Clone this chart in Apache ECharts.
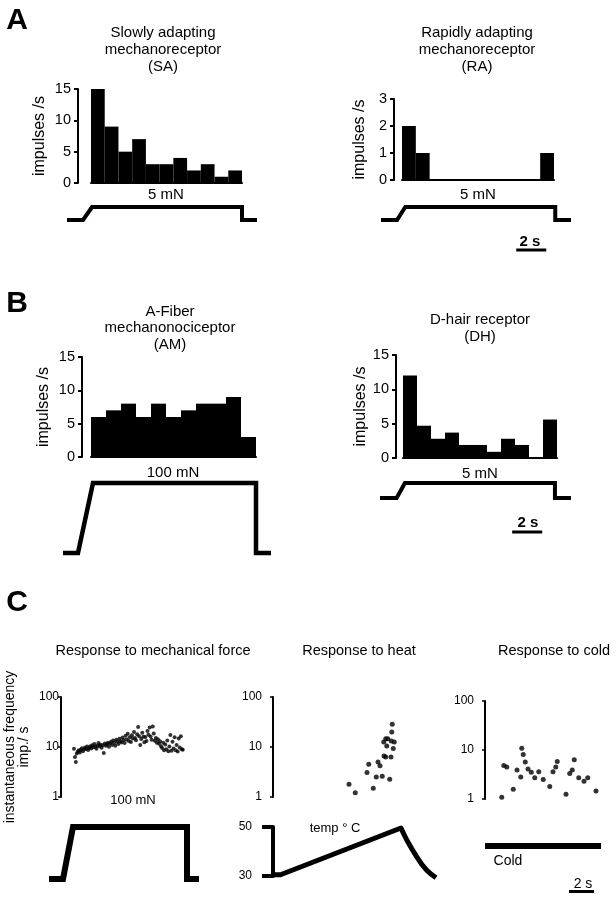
<!DOCTYPE html>
<html><head><meta charset="utf-8">
<script src="https://cdn.jsdelivr.net/npm/echarts@6/dist/echarts.min.js"></script>
<style>html,body{margin:0;padding:0;background:#fff}#c{width:616px;height:900px}</style>
</head><body><div id="c"></div>
<script>
// ---------- DATA ----------
const binLabels = ['1','2','3','4','5','6','7','8','9','10','11'];
const binsSA = [15,9,5,7,3,3,4,2,3,1,2];
const binsRA = [2,1,0,0,0,0,0,0,0,0,1];
const binsAM = [6,7,8,6,8,6,7,8,8,9,3];
const binsDH = [12,4.7,2.8,3.7,1.9,1.9,0.9,2.8,1.9,0,5.6];

// stimulus traces (time s, force mN)
const stimSA_t = [-1.07,0,0.6,10.6,10.6,11.6];
const stimSA_f = [0,0,5,5,0,0];
const stimRA_t = [-1.07,0,0.55,10.55,10.55,11.6];
const stimRA_f = [0,0,5,5,0,0];
const stimAM_t = [-1,0,1,11.87,11.87,12.87];
const stimAM_f = [0,0,100,100,0,0];
const stimDH_t = [-1.11,0,0.55,10.55,10.55,11.62];
const stimDH_f = [0,0,5,5,0,0];
const scaleRA_t = [7.95,9.95];
const scaleDH_t = [7.7,9.7];

// C: mechanical response (time s, instantaneous frequency imp/s)
const mechT = [2.00,2.08,2.15,2.22,2.30,2.38,2.46,2.55,2.63,2.71,2.80,2.88,2.96,3.05,3.13,3.22,3.30,3.38,3.46,3.55,3.63,3.71,3.80,3.88,3.96,4.05,4.13,4.21,4.30,4.38,4.46,4.55,4.63,4.71,4.80,4.88,4.96,5.05,5.13,5.21,5.30,5.38,5.46,5.55,5.63,5.71,5.80,5.88,5.96,6.05,6.13,6.21,6.30,6.38,6.46,6.55,6.63,6.71,6.80,6.88,6.96,7.05,7.13,7.21,7.30,7.38,7.46,7.55,7.63,7.71,7.80,7.88,7.96,8.05,8.13,8.21,8.30,8.38,8.46,8.55,8.63,8.71,8.80,8.88,8.96,9.05,9.13,9.21,9.30,9.38,9.46,9.55,9.63,9.71,9.80,9.88,9.96,10.05,10.13,10.21,10.30,10.38,10.46,10.55,10.63,10.70];
const mechF = [9.2,6.3,5.0,7.4,8.0,8.6,7.8,8.8,9.4,8.2,9.0,9.8,9.1,10.2,8.7,9.6,10.4,9.3,10.8,9.9,11.5,10.1,9.2,10.7,12.0,10.3,11.1,9.7,10.9,7.6,11.8,10.6,11.3,12.2,10.1,11.7,12.8,11.0,13.5,12.1,10.6,13.9,12.7,11.5,14.6,13.0,12.3,15.5,13.8,12.0,16.8,14.1,18.5,13.2,15.7,12.6,17.2,14.8,20.0,15.2,13.6,18.0,25.0,16.4,11.0,14.5,19.2,16.0,12.5,15.8,13.2,21.0,17.5,24.5,16.2,14.0,25.8,18.6,13.4,15.1,12.2,14.3,11.6,13.0,10.4,9.5,12.1,8.6,11.2,9.0,13.5,8.2,10.2,17.4,8.4,12.8,9.3,15.6,8.6,11.0,8.1,14.8,9.8,16.5,9.0,8.8];
const mechStim_t = [0,1.12,1.92,11.04,11.04,12];
const mechStim_f = [0,0,100,100,0,0];

// C: heat response
const heatT = [6.08,6.58,7.52,7.66,8.02,8.26,8.40,8.56,8.74,8.86,8.88,9.02,9.02,9.10,9.18,9.34,9.44,9.46,9.50,9.54,9.62,9.70];
const heatF = [1.79,1.22,3.1,4.5,1.49,2.5,5.0,4.2,2.6,12.6,6.6,6.3,14.7,10.5,14.7,2.26,6.3,13.2,20,28.4,9.3,12.6];
const tempT = [0,0.6,10.24,10.43,10.69,11.09,11.49,11.89,12.29,12.69,13.04];
const tempC = [30.5,30.5,49.6,47.5,44.8,41.2,37.9,34.8,32.4,30.6,29.3];
const tempTicks = [30,50];

// C: cold response
const coldT = [1.34,1.50,1.74,2.26,2.56,2.86,2.94,3.06,3.22,3.44,3.70,3.98,4.30,4.66,5.18,5.44,5.66,5.78,6.48,6.78,6.98,7.14,7.50,7.92,8.22,8.88];
const coldF = [1.08,4.8,4.5,1.58,3.9,2.8,10.8,8.1,5.7,4.1,3.5,2.7,3.6,2.5,1.8,3.6,4.5,5.8,1.25,3.3,3.9,6.3,2.7,2.3,2.7,1.46];
const coldStim_t = [0,9.28];
const scaleC_t = [6.72,8.72];

// ---------- BUILD ----------
const FONT = 'Liberation Sans, Arial, sans-serif';
const grids = [], xAxes = [], yAxes = [], series = [];
function pairs(a,b){return a.map((v,i)=>[v,b[i]]);}
function addGrid(rect, x, y){
  grids.push(rect); const i = grids.length-1;
  xAxes.push(Object.assign({gridIndex:i}, x));
  yAxes.push(Object.assign({gridIndex:i}, y));
  return i;
}
const hidden = (min,max)=>({type:'value', show:false, min, max});
const blackLine = w => ({show:true, lineStyle:{color:'#000', width:w}});

function hist(rect, data, max, interval, offset, nameGap){
  const i = addGrid(rect,
    {type:'category', data:binLabels, axisLine:blackLine(2), axisTick:{show:false}, axisLabel:{show:false}},
    {type:'value', min:0, max, interval, offset,
     axisLine:blackLine(2), axisTick:{show:true, length:4, lineStyle:{color:'#000', width:2}},
     axisLabel:{fontSize:14.5, color:'#000', margin:7, fontFamily:FONT},
     splitLine:{show:false}, name:'impulses /s', nameLocation:'middle', nameGap,
     nameTextStyle:{fontSize:16, color:'#000', fontFamily:FONT}});
  series.push({type:'bar', xAxisIndex:i, yAxisIndex:i, data, barCategoryGap:'0%',
    itemStyle:{color:'#000'}, animation:false, silent:true});
}
function trace(rect, xmin, xmax, ymin, ymax, data, width){
  const i = addGrid(rect, hidden(xmin,xmax), hidden(ymin,ymax));
  series.push({type:'line', xAxisIndex:i, yAxisIndex:i, data, symbol:'none', clip:false,
    lineStyle:{color:'#000', width, cap:'butt', join:'miter'}, animation:false, silent:true});
}
function logScatter(rect, xmin, xmax, data, size, name){
  const y = {type:'log', logBase:10, min:1, max:100,
    axisLine:blackLine(2), axisTick:{show:true, length:3, lineStyle:{color:'#000', width:1.5}},
    axisLabel:{fontSize:12, color:'#000', margin:2, fontFamily:FONT},
    splitLine:{show:false}, minorTick:{show:false}};
  if(name){ Object.assign(y,{name, nameLocation:'middle', nameGap:30,
    nameTextStyle:{fontSize:14, color:'#000', fontFamily:FONT, lineHeight:14}}); }
  const i = addGrid(rect, hidden(xmin,xmax), y);
  series.push({type:'scatter', xAxisIndex:i, yAxisIndex:i, data, symbolSize:size,
    itemStyle:{color:'#000'}, animation:false, silent:true});
}

// Panel A
hist({left:91, top:89, width:151, height:94}, binsSA, 15, 5, 13, 30);
trace({left:67, top:207, width:190, height:13}, -1.07, 11.6, 0, 5, pairs(stimSA_t, stimSA_f), 4);
hist({left:402, top:99, width:152, height:81}, binsRA, 3, 1, 8, 26);
trace({left:381, top:207, width:190, height:13}, -1.07, 11.6, 0, 5, pairs(stimRA_t, stimRA_f), 4);
trace({left:381, top:240, width:190, height:20}, -1.07, 11.6, 0, 1, scaleRA_t.map(t=>[t,0.5]), 3);
// Panel B
hist({left:91, top:357, width:165, height:100}, binsAM, 15, 5, 9, 30);
trace({left:63, top:483, width:208, height:70}, -1, 12.87, 0, 100, pairs(stimAM_t, stimAM_f), 4.5);
hist({left:403, top:355, width:154, height:103}, binsDH, 15, 5, 7, 27);
trace({left:380, top:483, width:191, height:15}, -1.11, 11.62, 0, 5, pairs(stimDH_t, stimDH_f), 4);
trace({left:380, top:522, width:191, height:20}, -1.11, 11.62, 0, 1, scaleDH_t.map(t=>[t,0.5]), 3);
// Panel C
logScatter({left:61, top:697, width:138, height:100}, 0.96, 12, pairs(mechT, mechF), 4,
  'instantaneous frequency\nimp./ s');
trace({left:49, top:827, width:150, height:52}, 0, 12, 0, 100, pairs(mechStim_t, mechStim_f), 6);
logScatter({left:264, top:697, width:172, height:100}, -0.72, 13.04, pairs(heatT, heatF), 5);
{
  const i = addGrid({left:266, top:827, width:170, height:49}, hidden(-0.56,13.04),
    {type:'value', min:30, max:50, axisLine:blackLine(4),
     axisTick:{show:true, length:11, customValues:tempTicks, lineStyle:{color:'#000', width:4}},
     axisLabel:{fontSize:12, color:'#000', margin:14, customValues:tempTicks, fontFamily:FONT},
     splitLine:{show:false}});
  series.push({type:'line', xAxisIndex:i, yAxisIndex:i, data:pairs(tempT,tempC), symbol:'none', clip:false,
    lineStyle:{color:'#000', width:5, cap:'butt', join:'round'}, animation:false, silent:true});
}
logScatter({left:476, top:701, width:129, height:98}, -0.72, 9.6, pairs(coldT, coldF), 5);
trace({left:476, top:836, width:129, height:20}, -0.72, 9.6, 0, 2, coldStim_t.map(t=>[t,1]), 6);
trace({left:476, top:883, width:129, height:20}, -0.72, 9.6, 0, 1, scaleC_t.map(t=>[t,0.5]), 3);

function txt(x, y, text, size, opts){
  return Object.assign({type:'text', x, y, silent:true, style:Object.assign({text, fill:'#000',
    font:(opts&&opts.bold?'bold ':'')+size+'px '+FONT, textAlign:'center', textVerticalAlign:'middle',
    lineHeight:(opts&&opts.lh)||size}, opts&&opts.style)});
}
const graphic = [
  txt(17, 21, 'A', 30, {bold:true}),
  txt(17, 304, 'B', 30, {bold:true}),
  txt(17, 603, 'C', 30, {bold:true}),
  txt(163, 50, 'Slowly adapting\nmechanoreceptor\n(SA)', 15, {lh:17}),
  txt(477, 50, 'Rapidly adapting\nmechanoreceptor\n(RA)', 15, {lh:17}),
  txt(170, 328, 'A-Fiber\nmechanonociceptor\n(AM)', 15, {lh:16.5}),
  txt(480, 328, 'D-hair receptor\n(DH)', 15, {lh:17}),
  txt(166, 195, '5 mN', 15),
  txt(478, 195, '5 mN', 15),
  txt(173, 473, '100 mN', 15),
  txt(480, 474, '5 mN', 15),
  txt(530, 242, '2 s', 15, {bold:true}),
  txt(528, 523, '2 s', 15, {bold:true}),
  txt(153, 651, 'Response to mechanical force', 14.5),
  txt(359, 651, 'Response to heat', 14.5),
  txt(554, 651, 'Response to cold', 14.5),
  txt(133, 800, '100 mN', 13),
  txt(335, 828, 'temp ° C', 13),
  txt(508, 861, 'Cold', 14),
  txt(583, 884, '2 s', 14)
];

const chart = echarts.init(document.getElementById('c'), null, {renderer:'canvas'});
chart.setOption({animation:false, backgroundColor:'#fff', grid:grids, xAxis:xAxes, yAxis:yAxes, series, graphic});
</script></body></html>
